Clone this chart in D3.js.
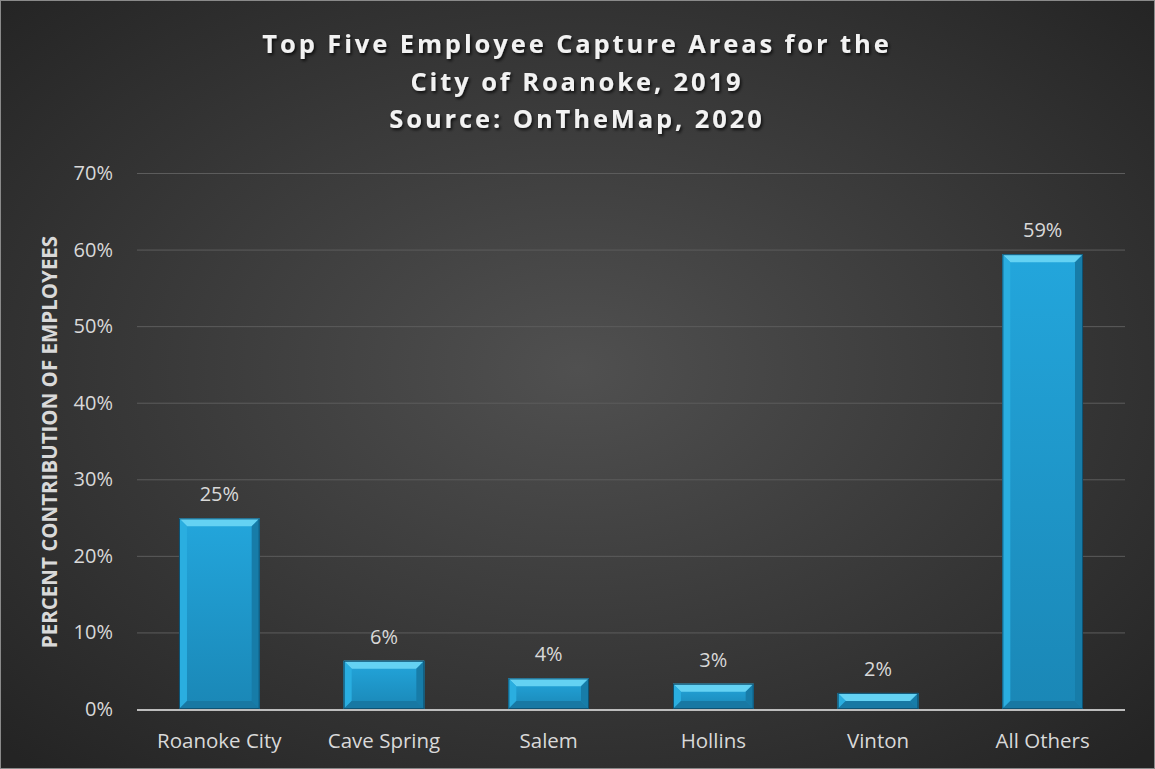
<!DOCTYPE html>
<html>
<head>
<meta charset="utf-8">
<script src="https://cdn.jsdelivr.net/npm/d3@7"></script>
<style>
  html, body { margin: 0; padding: 0; background: #2b2b2b; }
  svg { display: block; }
</style>
</head>
<body>
<svg id="chart" width="1155" height="769"></svg>
<script>
// Share of employees by home area
const categories = ["Roanoke City", "Cave Spring", "Salem", "Hollins", "Vinton", "All Others"];
const shares = [24.9, 6.3, 4.0, 3.3, 2.1, 59.4];
const yTicks = [0, 10, 20, 30, 40, 50, 60, 70];
const titleLines = [
  "Top Five Employee Capture Areas for the",
  "City of Roanoke, 2019",
  "Source: OnTheMap, 2020"
];
const yAxisTitle = "PERCENT CONTRIBUTION OF EMPLOYEES";

const W = 1155, H = 769;
const margin = { left: 137, right: 30, top: 173, bottom: 60 };
const svg = d3.select("#chart");
const defs = svg.append("defs");
const FONT = "'Open Sans', sans-serif";

// Background: dark radial glow
const bg = defs.append("radialGradient").attr("id", "bg")
  .attr("cx", "50%").attr("cy", "48%").attr("r", "70%");
bg.append("stop").attr("offset", "0%").attr("stop-color", "#505050");
bg.append("stop").attr("offset", "100%").attr("stop-color", "#242424");
svg.append("rect").attr("width", W).attr("height", H).attr("fill", "url(#bg)");
svg.append("rect").attr("x", 0.5).attr("y", 0.5).attr("width", W - 1).attr("height", H - 1)
  .attr("fill", "none").attr("stroke", "#8a8a8a").attr("stroke-width", 1);

// Bar body gradient
const barGrad = defs.append("linearGradient").attr("id", "barFill")
  .attr("x1", 0).attr("y1", 0).attr("x2", 0).attr("y2", 1);
barGrad.append("stop").attr("offset", "0%").attr("stop-color", "#23a6dc");
barGrad.append("stop").attr("offset", "100%").attr("stop-color", "#1a87b6");

const shadow = defs.append("filter").attr("id", "tshadow")
  .attr("x", "-10%").attr("y", "-30%").attr("width", "120%").attr("height", "160%");
shadow.append("feDropShadow").attr("dx", 1.5).attr("dy", 2).attr("stdDeviation", 1.5)
  .attr("flood-color", "#000").attr("flood-opacity", 0.75);

const x = d3.scaleBand().domain(categories)
  .range([margin.left, 1125]).paddingInner(0.51).paddingOuter(0.255);
const y = d3.scaleLinear().domain([0, 70]).range([709, 173]);

// Gridlines
svg.append("g").selectAll("line").data(yTicks.filter(t => t > 0)).join("line")
  .attr("x1", margin.left).attr("x2", 1125)
  .attr("y1", d => y(d) + 0.5).attr("y2", d => y(d) + 0.5)
  .attr("stroke", "#5c5c5c").attr("stroke-width", 1);

// Y tick labels
svg.append("g").selectAll("text").data(yTicks).join("text")
  .attr("x", 113).attr("y", d => y(d))
  .attr("dy", "0.35em").attr("text-anchor", "end")
  .attr("font-family", FONT).attr("font-size", 20)
  .attr("fill", "#d9d9d9")
  .text(d => d + "%");

// Bars with bevelled edges
const bv = 8;
const barData = categories.map((c, i) => ({ c, v: shares[i] }));
const bars = svg.append("g").selectAll("g").data(barData).join("g");
bars.each(function (d) {
  const g = d3.select(this);
  const x0 = x(d.c), x1 = x0 + x.bandwidth();
  const y0 = y(d.v), y1 = y(0);
  const b = Math.min(bv, (y1 - y0) / 2);
  g.append("rect").attr("x", x0).attr("y", y0).attr("width", x1 - x0).attr("height", y1 - y0)
    .attr("fill", "url(#barFill)");
  // top facet
  g.append("polygon").attr("points", [[x0, y0], [x1, y0], [x1 - b, y0 + b], [x0 + b, y0 + b]].join(" "))
    .attr("fill", "#64d2f3");
  // left facet
  g.append("polygon").attr("points", [[x0, y0], [x0 + b, y0 + b], [x0 + b, y1 - b], [x0, y1]].join(" "))
    .attr("fill", "#2aaee0");
  // right facet
  g.append("polygon").attr("points", [[x1, y0], [x1 - b, y0 + b], [x1 - b, y1 - b], [x1, y1]].join(" "))
    .attr("fill", "#177ca8");
  // bottom facet
  g.append("polygon").attr("points", [[x0, y1], [x0 + b, y1 - b], [x1 - b, y1 - b], [x1, y1]].join(" "))
    .attr("fill", "#1878a3");
  g.append("rect").attr("x", x0 + 0.5).attr("y", y0 + 0.5).attr("width", x1 - x0 - 1).attr("height", y1 - y0 - 1)
    .attr("fill", "none").attr("stroke", "#0e5273").attr("stroke-width", 1);
});

// Value labels
svg.append("g").selectAll("text").data(barData).join("text")
  .attr("x", d => x(d.c) + x.bandwidth() / 2)
  .attr("y", d => y(d.v) - 17)
  .attr("text-anchor", "middle")
  .attr("font-family", FONT).attr("font-size", 20)
  .attr("fill", "#d9d9d9")
  .text(d => Math.round(d.v) + "%");

// Baseline
svg.append("line").attr("x1", margin.left).attr("x2", 1125)
  .attr("y1", y(0) + 1).attr("y2", y(0) + 1)
  .attr("stroke", "#bdbdbd").attr("stroke-width", 2);

// Category labels
svg.append("g").selectAll("text").data(categories).join("text")
  .attr("x", d => x(d) + x.bandwidth() / 2).attr("y", 748)
  .attr("text-anchor", "middle")
  .attr("font-family", FONT).attr("font-size", 20.5)
  .attr("fill", "#d9d9d9")
  .text(d => d);

// Y axis title
svg.append("text")
  .attr("transform", "translate(57,442) rotate(-90)")
  .attr("text-anchor", "middle")
  .attr("font-family", FONT).attr("font-weight", "bold")
  .attr("font-size", 20.5).attr("fill", "#d9d9d9")
  .text(yAxisTitle);

// Title
svg.append("g").attr("filter", "url(#tshadow)").selectAll("text").data(titleLines).join("text")
  .attr("x", 577).attr("y", (d, i) => 53 + i * 37.5)
  .attr("text-anchor", "middle")
  .attr("font-family", FONT).attr("font-weight", "bold")
  .attr("font-size", 25.5).attr("letter-spacing", 2.9)
  .attr("fill", "#f2f2f2")
  .text(d => d);
</script>
</body>
</html>
